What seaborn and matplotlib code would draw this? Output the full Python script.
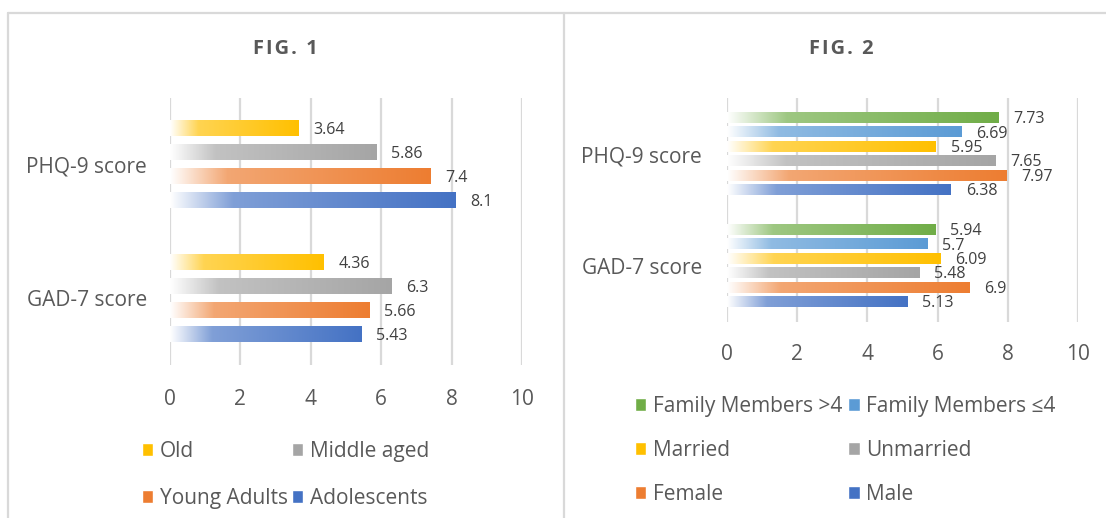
import numpy as np
import pandas as pd
import seaborn as sns
from matplotlib import pyplot as plt
from matplotlib.colors import to_rgb
from matplotlib.patches import Patch
from matplotlib.lines import Line2D

sns.set_style('white')
plt.rcParams['font.family'] = ['Open Sans', 'DejaVu Sans']

# ---- data -------------------------------------------------------------
scores = ['PHQ-9 score', 'GAD-7 score']

fig1_groups = ['Old', 'Middle aged', 'Young Adults', 'Adolescents']
fig1_phq = [3.64, 5.86, 7.4, 8.1]
fig1_gad = [4.36, 6.3, 5.66, 5.43]
fig1_colors = ['#FFC000', '#A5A5A5', '#ED7D31', '#4472C4']

fig2_groups = ['Family Members >4', 'Family Members \u22644', 'Married',
               'Unmarried', 'Female', 'Male']
fig2_phq = [7.73, 6.69, 5.95, 7.65, 7.97, 6.38]
fig2_gad = [5.94, 5.7, 6.09, 5.48, 6.9, 5.13]
fig2_colors = ['#70AD47', '#5B9BD5', '#FFC000', '#A5A5A5', '#ED7D31', '#4472C4']

xticks = [0, 2, 4, 6, 8, 10]

TXT = '#595959'
GRID = '#D9D9D9'
W, H = 1106, 518


def make_df(groups, phq, gad):
    rows = []
    for g, p, q in zip(groups, phq, gad):
        rows.append({'score': scores[0], 'group': g, 'value': p})
        rows.append({'score': scores[1], 'group': g, 'value': q})
    return pd.DataFrame(rows)


def gradient(color, n=256):
    c = np.array(to_rgb(color))
    t = np.linspace(0, 1, n)
    b = np.interp(t, [0, 0.22, 1], [0.0, 0.68, 1.0])
    img = (1 - b)[:, None] * np.ones(3) + b[:, None] * c
    return img[None, :, :]


def draw_panel(ax, df, groups, colors, gap, width, fs_lab):
    sns.barplot(data=df, y='score', x='value', hue='group', orient='h',
                hue_order=groups, palette=colors, order=scores, ax=ax,
                width=width, gap=gap, legend=False, errorbar=None)
    # replace solid fill by a white->colour gradient
    for cont, col in zip(ax.containers, colors):
        for bar, val in zip(cont, cont.datavalues):
            x0, y0 = bar.get_x(), bar.get_y()
            w, h = bar.get_width(), bar.get_height()
            ax.imshow(gradient(col), extent=[x0, x0 + w, y0 + h, y0],
                      aspect='auto', zorder=3, interpolation='bilinear')
            bar.set_facecolor('none')
            bar.set_edgecolor('none')
            ax.text(x0 + w + 0.42, y0 + h / 2 + 0.01, f'{val:g}',
                    va='center', ha='left', fontsize=fs_lab, color='#404040')
    ax.set_xlim(0, 10)
    ax.set_ylim(1.5, -0.5)
    ax.set_xticks(xticks)
    ax.grid(axis='x', color=GRID, linewidth=1.6, zorder=0)
    ax.set_axisbelow(True)
    for s in ax.spines.values():
        s.set_visible(False)
    ax.set_xlabel('')
    ax.set_ylabel('')
    ax.tick_params(axis='both', length=0, labelcolor=TXT, labelsize=15)


fig = plt.figure(figsize=(W / 100, H / 100), dpi=100)

ax1 = fig.add_axes([170 / W, 1 - 365 / H, 352 / W, 267 / H])
ax2 = fig.add_axes([727 / W, 1 - 322 / H, 351 / W, 224 / H])

draw_panel(ax1, make_df(fig1_groups, fig1_phq, fig1_gad), fig1_groups,
           fig1_colors, gap=0.37, width=0.72, fs_lab=11.5)
draw_panel(ax2, make_df(fig2_groups, fig2_phq, fig2_gad), fig2_groups,
           fig2_colors, gap=0.3, width=0.77, fs_lab=11.5)
ax1.tick_params(axis='x', pad=17)
ax2.tick_params(axis='x', pad=15.5)
ax1.tick_params(axis='y', pad=16.5)
ax2.tick_params(axis='y', pad=18)

hs = '\u200a'
fig.text(285 / W, 1 - 49.5 / H, hs.join('FIG. 1'), ha='center', va='center',
         fontsize=14.5, fontweight='bold', color=TXT)
fig.text(841 / W, 1 - 49.5 / H, hs.join('FIG. 2'), ha='center', va='center',
         fontsize=14.5, fontweight='bold', color=TXT)


def legend_order(items, ncol):
    nrow = int(np.ceil(len(items) / ncol))
    return [items[r * ncol + c] for c in range(ncol) for r in range(nrow)
            if r * ncol + c < len(items)]


leg_kw = dict(ncol=2, frameon=False, loc='upper left', fontsize=15,
              labelcolor=TXT, handlelength=0.55, handleheight=0.55,
              handletextpad=0.3, borderpad=0, borderaxespad=0)

h1 = [Patch(facecolor=c, label=g) for g, c in zip(fig1_groups, fig1_colors)]
fig.legend(handles=legend_order(h1, 2), bbox_to_anchor=(142 / W, 1 - 441 / H),
           labelspacing=1.25, columnspacing=0.2, **leg_kw)
h2 = [Patch(facecolor=c, label=g) for g, c in zip(fig2_groups, fig2_colors)]
fig.legend(handles=legend_order(h2, 2), bbox_to_anchor=(635 / W, 1 - 396 / H),
           labelspacing=1.1, columnspacing=0.3, **leg_kw)

# panel borders
for xs, ys in [([8, 1106], [13, 13]), ([8, 8], [13, 518]),
               ([564, 564], [13, 518])]:
    fig.add_artist(Line2D([x / W for x in xs], [1 - y / H for y in ys],
                          color=GRID, linewidth=1.6,
                          transform=fig.transFigure))

fig.savefig('out.png', dpi=100)
